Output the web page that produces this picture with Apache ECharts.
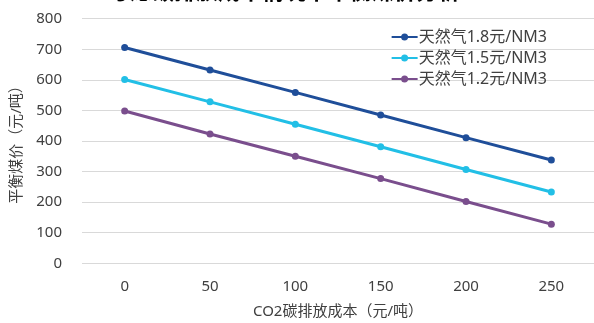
<!DOCTYPE html>
<html><head><meta charset="utf-8">
<script src="https://cdn.jsdelivr.net/npm/echarts@6/dist/echarts.min.js"></script>
<style>html,body{margin:0;padding:0;background:#fff}#c{width:594px;height:323px}</style>
</head><body><div id="c"></div>
<script>
const titleText = '考虑碳排放成本情况下平衡煤价分析';
const categories = ['0', '50', '100', '150', '200', '250'];
const seriesNames = ['天然气1.8元/NM3', '天然气1.5元/NM3', '天然气1.2元/NM3'];
const gas18 = [706, 632, 559, 485, 411, 338];
const gas15 = [601, 528, 455, 381, 307, 233];
const gas12 = [498, 423, 350, 277, 202, 128];
const yTicks = [0, 100, 200, 300, 400, 500, 600, 700, 800];
const colors = ['#1F4E99', '#22BFE6', '#7A4E8D'];
const font = '"Noto Sans","Noto Sans CJK SC",sans-serif';
const chart = echarts.init(document.getElementById('c'));
const mk = (name, data, i) => ({
  name, type: 'line', data, symbol: 'circle', symbolSize: 7,
  lineStyle: { width: 3, color: colors[i] }, itemStyle: { color: colors[i] }
});
chart.setOption({
  animation: false,
  title: { text: titleText, left: 279, textAlign: 'center', top: -23,
    textStyle: { fontSize: 22, fontWeight: 'bold', color: '#000', fontFamily: font } },
  legend: { orient: 'vertical', right: 42, top: 22, itemGap: 1, itemWidth: 26, itemHeight: 10,
    icon: 'path://M0,4 L26,4 L26,6 L0,6 Z M13,1.5 A3.5,3.5 0 1 1 12.99,1.5 Z',
    textStyle: { fontSize: 16, lineHeight: 20, color: '#404040', fontFamily: font, padding: [0,0,0,-4] },
    data: seriesNames },
  grid: { left: 82, right: 0, top: 18.7, bottom: 59.7, containLabel: false, outerBoundsMode: 'none' },
  xAxis: { type: 'category', data: categories, boundaryGap: true,
    axisLine: { show: false }, axisTick: { show: false },
    axisLabel: { fontSize: 15, color: '#404040', margin: 16, fontFamily: font },
    name: 'CO2碳排放成本（元/吨）', nameLocation: 'middle', nameGap: 41,
    nameTextStyle: { fontSize: 15, color: '#404040', fontFamily: font } },
  yAxis: { type: 'value', min: 0, max: 800, interval: 100,
    axisLine: { show: false }, axisTick: { show: false },
    splitLine: { lineStyle: { color: '#D9D9D9', width: 1 } },
    axisLabel: { fontSize: 15, color: '#404040', margin: 20, fontFamily: font,
      formatter: v => yTicks.includes(v) ? String(v) : '' },
    name: '平衡煤价（元/吨）', nameLocation: 'middle', nameGap: 58,
    nameTextStyle: { fontSize: 15, color: '#404040', fontFamily: font } },
  series: [mk(seriesNames[0], gas18, 0), mk(seriesNames[1], gas15, 1), mk(seriesNames[2], gas12, 2)]
});
</script></body></html>
